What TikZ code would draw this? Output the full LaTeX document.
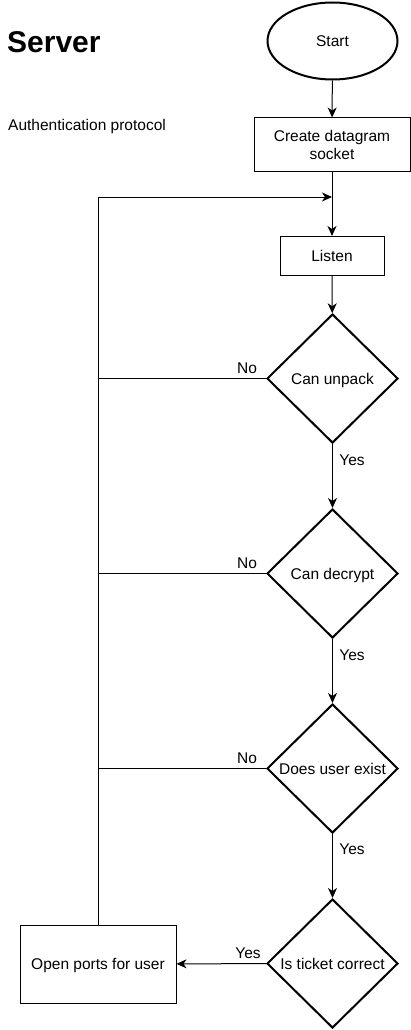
\documentclass[tikz,border=0pt]{standalone}
\usepackage{fontspec}
\setmainfont{Liberation Sans}
\usetikzlibrary{shapes.geometric,arrows.meta}
\tikzset{
  x=1pt,y=-1pt,
  every node/.style={font=\fontsize{15.5}{18}\selectfont},
  procbox/.style={draw,line width=1pt,rectangle,align=center,inner sep=0pt,text depth=0pt},
  decision/.style={draw,line width=2pt,diamond,aspect=1,inner sep=0pt,minimum width=131pt,minimum height=129pt,text depth=0pt},
  startnode/.style={draw,line width=2pt,ellipse,minimum width=130pt,minimum height=77pt,inner sep=0pt,text depth=0pt},
  flow/.style={line width=1pt,-{Stealth[length=10pt,width=9pt,inset=3pt]}},
  plainline/.style={line width=1pt},
  lbl/.style={inner sep=0pt}
}
\begin{document}
\begin{tikzpicture}
\useasboundingbox (0,0) rectangle (411,1030);
\node[anchor=west,inner sep=0pt,font=\fontsize{30}{34}\selectfont\bfseries] (title) at (7,42) {Server};
\node[anchor=west,inner sep=0pt] (sub) at (8,126) {Authentication protocol};
\node[startnode] (start) at (332.5,41) {Start};
\node[procbox,minimum width=156pt,minimum height=53pt] (create) at (332,144.5) {Create datagram\\socket};
\node[procbox,minimum width=104pt,minimum height=39pt] (listen) at (332,256) {Listen};
\node[decision] (unpack) at (332.5,378.5) {Can unpack};
\node[decision] (decrypt) at (332.5,573.5) {Can decrypt};
\node[decision] (exist) at (332.5,768.5) {Does user exist};
\node[decision] (ticket) at (332.5,963.5) {Is ticket correct};
\node[procbox,minimum width=156pt,minimum height=78pt] (open) at (98,964) {Open ports for user};
\coordinate (join) at (332,197);
\coordinate (loopc) at (98,197);
\draw[flow] (start) -- (create);
\draw[flow] (create) -- (listen);
\draw[flow] (listen) -- (unpack);
\draw[flow] (unpack) -- (decrypt);
\draw[flow] (decrypt) -- (exist);
\draw[flow] (exist) -- (ticket);
\draw[flow] (ticket) -- (open);
\draw[flow] (open.north) -- (loopc) -- (join);
\draw[plainline] (unpack.west) -- (98,378.5);
\draw[plainline] (decrypt.west) -- (98,573.5);
\draw[plainline] (exist.west) -- (98,768.5);
\node[lbl] (no1) at (247,368) {No};
\node[lbl] (no2) at (247,563) {No};
\node[lbl] (no3) at (247,758) {No};
\node[lbl] (yes1) at (352,460) {Yes};
\node[lbl] (yes2) at (352,655) {Yes};
\node[lbl] (yes3) at (352,849) {Yes};
\node[lbl] (yes4) at (248,953) {Yes};
\end{tikzpicture}
\end{document}
